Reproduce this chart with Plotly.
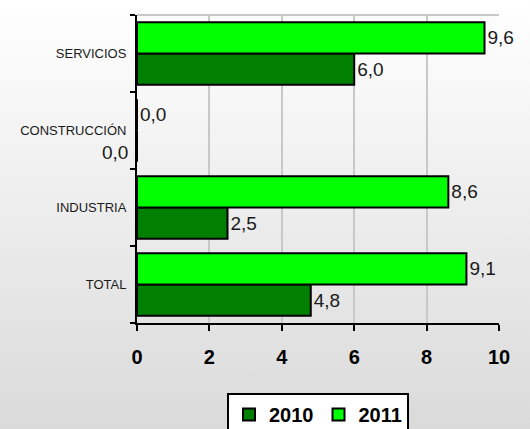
import base64
import plotly.graph_objects as go

# data (top to bottom in the picture: SERVICIOS, CONSTRUCCIÓN, INDUSTRIA, TOTAL)
sectores = ["TOTAL", "INDUSTRIA", "CONSTRUCCIÓN", "SERVICIOS"]
valores_2010 = [4.8, 2.5, 0.0, 6.0]
valores_2011 = [9.1, 8.6, 0.0, 9.6]
x_ticks = [0, 2, 4, 6, 8, 10]

W, H = 530, 429
L, R, T, B = 137, 31, 15, 106
pw, ph = W - L - R, H - T - B

FONT = "Liberation Sans, Arial, sans-serif"


def fmt(v):
    return f"{v:.1f}".replace(".", ",")


# gradient backdrop (white at top -> light grey at bottom)
svg = (
    '<svg xmlns="http://www.w3.org/2000/svg" width="10" height="100" preserveAspectRatio="none">'
    '<defs><linearGradient id="g" x1="0" y1="0" x2="0" y2="1">'
    '<stop offset="0" stop-color="#ffffff"/><stop offset="1" stop-color="#dadada"/>'
    '</linearGradient></defs><rect width="10" height="100" fill="url(#g)"/></svg>'
)
bg_uri = "data:image/svg+xml;base64," + base64.b64encode(svg.encode()).decode()

# 2010 label for CONSTRUCCIÓN is drawn left of the axis in the original
text_2010 = [fmt(v) if s != "CONSTRUCCIÓN" else "" for s, v in zip(sectores, valores_2010)]
text_2011 = [fmt(v) for v in valores_2011]

fig = go.Figure()
fig.add_trace(go.Bar(
    y=sectores, x=valores_2010, name="2010", orientation="h",
    marker=dict(color="#007f00", line=dict(color="#000000", width=2)),
    text=text_2010, textposition="outside", cliponaxis=False,
    constraintext="none",
    textfont=dict(family=FONT, size=19, color="#1a1a1a"),
))
fig.add_trace(go.Bar(
    y=sectores, x=valores_2011, name="2011", orientation="h",
    marker=dict(color="#00ff00", line=dict(color="#000000", width=2)),
    text=text_2011, textposition="outside", cliponaxis=False,
    constraintext="none",
    textfont=dict(family=FONT, size=19, color="#1a1a1a"),
))

i = sectores.index("CONSTRUCCIÓN")
fig.add_annotation(
    x=0, y=sectores[i], xref="x", yref="y", text=fmt(valores_2010[i]),
    showarrow=False, xanchor="right", yanchor="middle", xshift=-7, yshift=-22,
    font=dict(family=FONT, size=19, color="#1a1a1a"),
)

# top frame line
fig.add_shape(type="line", xref="paper", yref="paper", x0=0, x1=1, y0=1, y1=1,
              line=dict(color="#c8c8c8", width=2), layer="below")

fig.add_layout_image(
    source=bg_uri, xref="paper", yref="paper",
    x=-L / pw, y=1 + T / ph, sizex=W / pw, sizey=H / ph,
    xanchor="left", yanchor="top", sizing="stretch", layer="below",
)

fig.update_layout(
    width=W, height=H,
    margin=dict(l=L, r=R, t=T, b=B, autoexpand=False),
    paper_bgcolor="rgba(0,0,0,0)", plot_bgcolor="rgba(0,0,0,0)",
    barmode="group", bargap=0.19, bargroupgap=0,
    separators=",.",
    font=dict(family=FONT, color="#1a1a1a"),
    showlegend=True,
    legend=dict(
        orientation="h", x=0.5, xanchor="center", y=-(393 - T - ph) / ph, yanchor="top",
        bgcolor="#ffffff", bordercolor="#000000", borderwidth=2,
        font=dict(family=FONT, size=20, color="#000000", weight="bold"),
        itemwidth=30, traceorder="normal", tracegroupgap=0,
    ),
    xaxis=dict(
        range=[0, 10], tickvals=x_ticks, showgrid=True, gridcolor="#c8c8c8", gridwidth=2,
        zeroline=False, showline=True, linecolor="#000000", linewidth=2,
        ticks="outside", ticklen=6, tickwidth=2, tickcolor="#000000",
        tickfont=dict(family=FONT, size=20, color="#000000", weight="bold"),
        ticklabelstandoff=9, automargin=False,
    ),
    yaxis=dict(
        categoryorder="array", categoryarray=sectores,
        showline=True, linecolor="#000000", linewidth=2,
        ticks="outside", ticklen=5, tickwidth=2, tickcolor="#000000",
        tickson="boundaries", showgrid=False,
        tickfont=dict(family=FONT, size=13, color="#1a1a1a"),
        ticklabelstandoff=6, automargin=False,
    ),
)

# drop the browser's default page margin so the figure sits at (0, 0)
fig.write_html("out.html", config={"displayModeBar": False},
               post_script="document.body.style.margin='0';")
